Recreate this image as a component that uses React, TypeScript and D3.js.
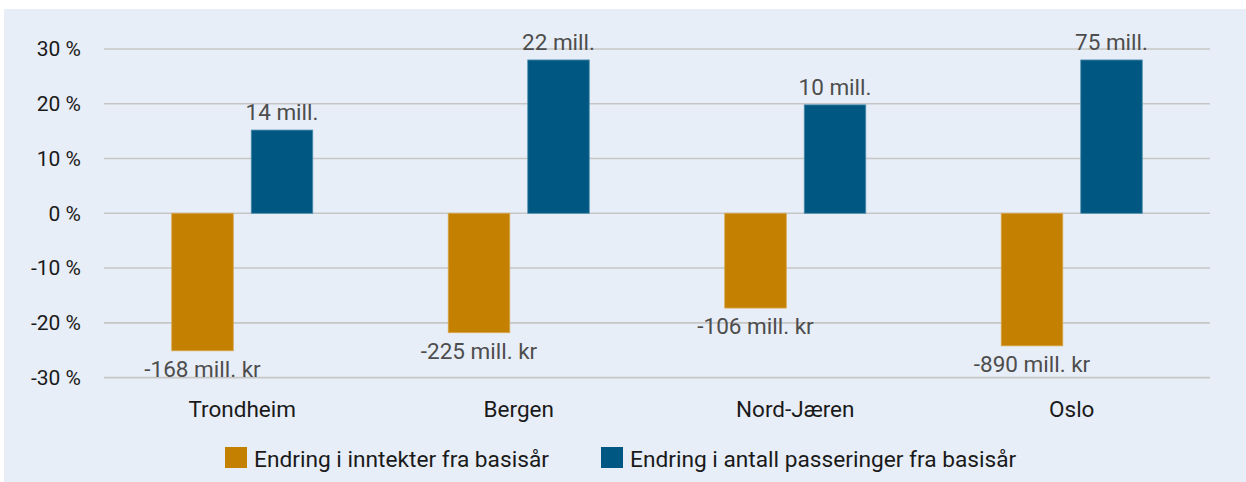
import React from "react";
import * as d3 from "d3";

const categories = ["Trondheim", "Bergen", "Nord-Jæren", "Oslo"];
const seriesNames = ["Endring i inntekter fra basisår", "Endring i antall passeringer fra basisår"];
const incomeChange = [-25.1, -21.8, -17.3, -24.2];
const passingsChange = [15.2, 28.0, 19.8, 28.0];
const incomeLabels = ["-168 mill. kr", "-225 mill. kr", "-106 mill. kr", "-890 mill. kr"];
const passingsLabels = ["14 mill.", "22 mill.", "10 mill.", "75 mill."];
const yTicks = [-30, -20, -10, 0, 10, 20, 30];

const W = 1246;
const H = 482;
const FONT = "Roboto, 'Noto Sans', sans-serif";
const COLORS = ["#c48000", "#005882"];
const STROKES = ["#d6a64a", "#4f8fae"];

export default function App() {
  const left = 104;
  const right = 1210;
  const y = d3.scaleLinear().domain([-30, 30]).range([377.6, 49]);
  const x0 = d3.scaleBand<string>().domain(categories).range([left, right]).paddingInner(0).paddingOuter(0);
  const x1 = d3
    .scaleBand<string>()
    .domain(seriesNames)
    .range([0, x0.bandwidth()])
    .paddingInner(0.226)
    .paddingOuter(0.852);
  const values = [incomeChange, passingsChange];
  const labels = [incomeLabels, passingsLabels];

  return (
    <svg
      width={W}
      height={H}
      style={{ position: "absolute", left: 0, top: 0, background: "#ffffff" }}
      fontFamily={FONT}
    >
      <rect x={4} y={9} width={W - 4} height={H - 9} fill="#e8eef7" />
      {yTicks.map((t) => (
        <g key={t}>
          <line x1={left} x2={right} y1={y(t)} y2={y(t)} stroke="#c6c6c6" strokeWidth={1.6} />
          <text x={81} y={y(t)} dy="0.35em" textAnchor="end" fontSize={21} fill="#1a1a1a">
            {`${t} %`}
          </text>
        </g>
      ))}
      {categories.map((c, i) => (
        <g key={c}>
          {seriesNames.map((s, si) => {
            const v = values[si][i];
            const bx = (x0(c) as number) + (x1(s) as number);
            const bw = x1.bandwidth();
            const y0 = y(0);
            const yv = y(v);
            const top = Math.min(y0, yv);
            const h = Math.abs(yv - y0);
            const cx = bx + bw / 2;
            const ly = v < 0 ? yv + 26 : yv - 10;
            return (
              <g key={s}>
                <rect x={bx} y={top} width={bw} height={h} fill={COLORS[si]} stroke={STROKES[si]} strokeWidth={0.8} />
                <text x={cx} y={ly} textAnchor="middle" fontSize={22.5} fill="#4d4d4d">
                  {labels[si][i]}
                </text>
              </g>
            );
          })}
          <text
            x={(x0(c) as number) + x0.bandwidth() / 2}
            y={417}
            textAnchor="middle"
            fontSize={22.5}
            fill="#1a1a1a"
          >
            {c}
          </text>
        </g>
      ))}
      {seriesNames.map((s, si) => {
        const lx = si === 0 ? 225 : 601;
        return (
          <g key={s}>
            <rect x={lx} y={447} width={22} height={21} fill={COLORS[si]} />
            <text x={lx + 29} y={467} fontSize={22.7} fill="#1a1a1a">
              {s}
            </text>
          </g>
        );
      })}
    </svg>
  );
}
